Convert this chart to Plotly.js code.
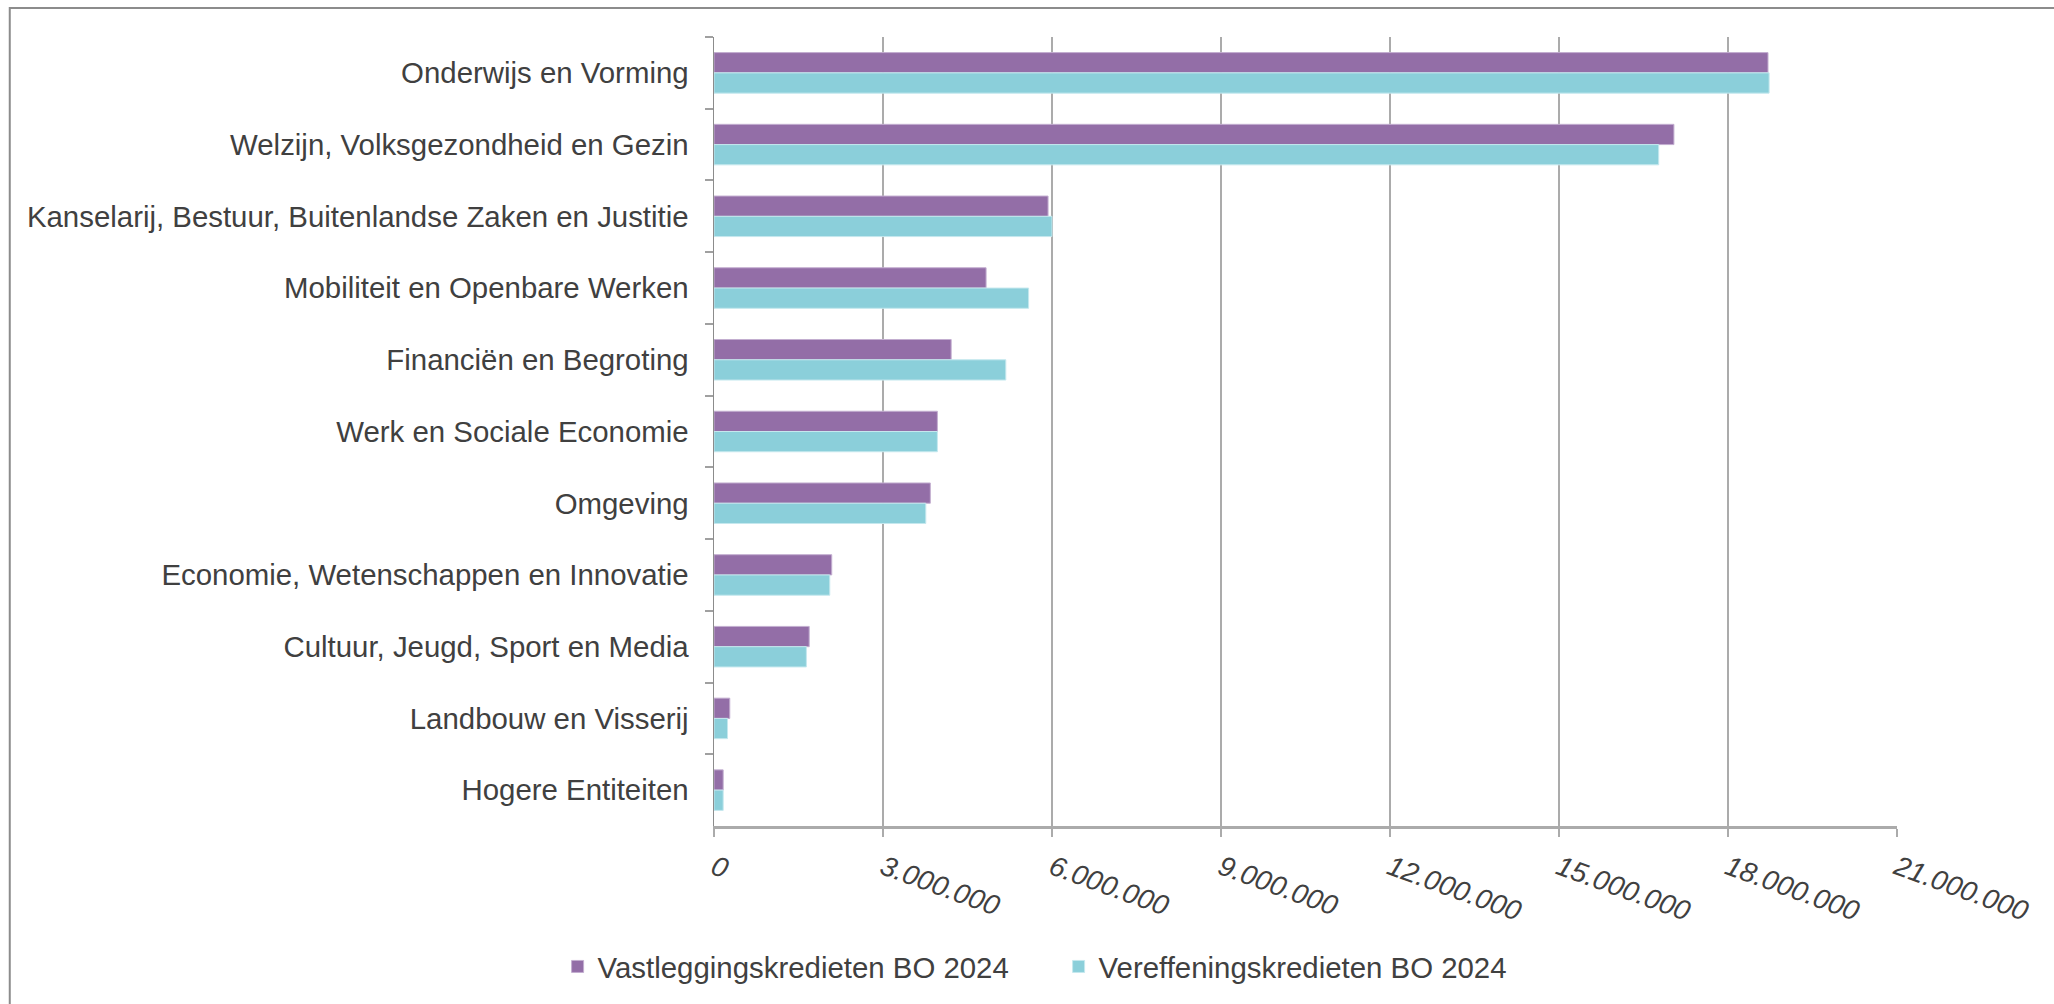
<!DOCTYPE html>
<html>
<head>
<meta charset="utf-8">
<script src="https://cdn.plot.ly/plotly-3.0.1.min.js"></script>
<style>
html,body{margin:0;padding:0;background:#fff;}
#chart{width:2054px;height:1004px;}
</style>
</head>
<body>
<div id="chart"></div>
<script>
var categories = [
  "Onderwijs en Vorming",
  "Welzijn, Volksgezondheid en Gezin",
  "Kanselarij, Bestuur, Buitenlandse Zaken en Justitie",
  "Mobiliteit en Openbare Werken",
  "Financiën en Begroting",
  "Werk en Sociale Economie",
  "Omgeving",
  "Economie, Wetenschappen en Innovatie",
  "Cultuur, Jeugd, Sport en Media",
  "Landbouw en Visserij",
  "Hogere Entiteiten"
];
var vastlegging = [18710000, 17040000, 5930000, 4830000, 4210000, 3965000, 3840000, 2090000, 1690000, 280000, 163000];
var vereffening = [18730000, 16770000, 6000000, 5585000, 5180000, 3965000, 3760000, 2055000, 1640000, 240000, 163000];
var seriesNames = ["Vastleggingskredieten BO 2024", "Vereffeningskredieten BO 2024"];
var xTicks = [0, 3000000, 6000000, 9000000, 12000000, 15000000, 18000000, 21000000];

var FONT = "Liberation Sans, Arial, Helvetica, sans-serif";
var TXT = "#404040";

var traces = [
  {
    type: "bar", orientation: "h", name: seriesNames[0],
    y: categories, x: vastlegging,
    marker: {color: "#936EA7", line: {color: "#C3AED0", width: 1}},
    hoverinfo: "skip"
  },
  {
    type: "bar", orientation: "h", name: seriesNames[1],
    y: categories, x: vereffening,
    marker: {color: "#8BCFDA", line: {color: "#C5E8EE", width: 1}},
    hoverinfo: "skip"
  }
];

var layout = {
  width: 2054, height: 1004,
  margin: {l: 713.5, r: 157, t: 37, b: 177, pad: 0},
  paper_bgcolor: "#fff", plot_bgcolor: "#fff",
  separators: ",.",
  font: {family: FONT, size: 29, color: TXT},
  barmode: "group",
  bargap: 0.435,
  bargroupgap: 0,
  showlegend: true,
  legend: {
    orientation: "h",
    x: -0.1322, xanchor: "left",
    y: -0.177, yanchor: "middle",
    font: {family: FONT, size: 29.4, color: TXT},
    entrywidth: 456,
    entrywidthmode: "pixels",
    traceorder: "normal"
  },
  xaxis: {
    range: [0, 21000000],
    tickmode: "array", tickvals: xTicks,
    tickformat: ",d",
    tickangle: 20,
    tickfont: {family: FONT, size: 28, color: TXT, style: "italic"},
    ticklabelstandoff: 4,
    showgrid: true, gridcolor: "#ABABAB", gridwidth: 1.5,
    zeroline: false,
    showline: true, linecolor: "#ABABAB", linewidth: 2.5,
    ticks: "outside", ticklen: 8, tickcolor: "#ABABAB", tickwidth: 1.5,
    fixedrange: true
  },
  yaxis: {
    type: "category",
    autorange: "reversed",
    tickson: "boundaries",
    ticks: "outside", ticklen: 8, tickcolor: "#A0A0A0", tickwidth: 2,
    showline: true, linecolor: "#8C8C8C", linewidth: 1.5,
    showgrid: false, zeroline: false,
    tickfont: {family: FONT, size: 29.4, color: TXT},
    ticklabelstandoff: 18,
    fixedrange: true
  },
  shapes: [
    {
      type: "rect", xref: "paper", yref: "paper",
      x0: -0.5953, x1: 1.2, y0: -0.3, y1: 1.0367,
      line: {color: "#8C8C8C", width: 2},
      fillcolor: "rgba(0,0,0,0)", layer: "below"
    }
  ]
};

Plotly.newPlot("chart", traces, layout, {displayModeBar: false, staticPlot: true});
</script>
</body>
</html>
